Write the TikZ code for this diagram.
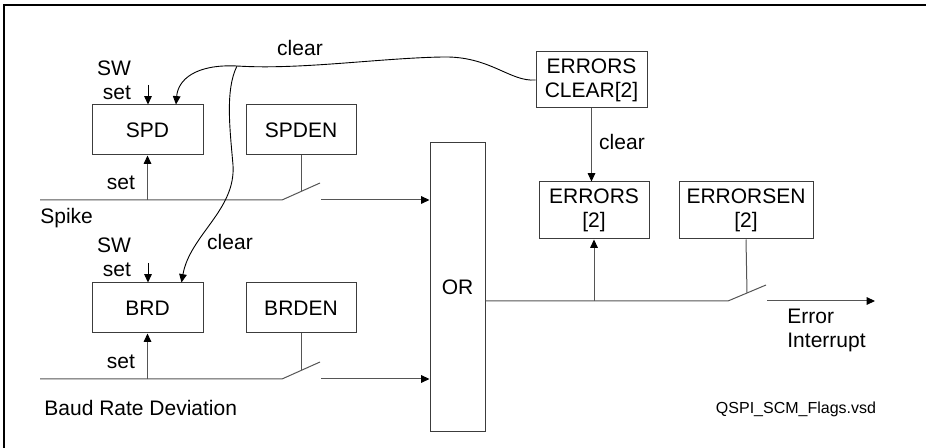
\documentclass[tikz,border=0pt]{standalone}
\usepackage{fontspec}
\setmainfont{Liberation Sans}
\usepackage{tikz}
\usetikzlibrary{arrows.meta, calc, positioning}
\definecolor{boxgray}{RGB}{60,60,60}
\definecolor{wiregray}{RGB}{85,85,85}
\tikzstyle{flag} = [draw=boxgray, line width=0.5pt, inner sep=1pt, align=center, minimum height=25pt]
\tikzstyle{wire} = [draw=wiregray, line width=0.5pt]
\tikzstyle{sigarrow} = [-{Triangle[length=4.2pt, width=3.8pt, color=black]}]
\tikzstyle{clearline} = [draw=black, line width=0.45pt]

\begin{document}
\begin{tikzpicture}[x=0.5pt, y=-0.5pt, font=\fontsize{10.5}{12}\selectfont]
    \useasboundingbox (0,0) rectangle (926,448);
    % Frame
    \draw[line width=0.7pt] (4,448) -- (4,5) -- (926,5);

    % Flag and enable registers
    \node[flag, minimum width=55.5pt] (spd) at (147.5,130) {SPD};
    \node[flag, minimum width=55pt] (spden) at (301,130) {SPDEN};
    \node[flag, minimum width=55.5pt] (brd) at (147.5,308) {BRD};
    \node[flag, minimum width=55pt] (brden) at (301,308) {BRDEN};
    \node[flag, minimum width=27.5pt, minimum height=144.5pt] (orgate) at (457.5,287.5) {OR};
    \node[flag, minimum width=55.5pt, minimum height=28pt] (errclr) at (591.5,80) {ERRORS\\CLEAR[2]};
    \node[flag, minimum width=55pt, minimum height=28.5pt] (errors) at (594,210.5) {ERRORS\\{[2]}};
    \node[flag, minimum width=67pt, minimum height=28.5pt] (errorsen) at (746,210.5) {ERRORSEN\\{[2]}};

    % Switch points
    \coordinate (spikein) at (40,200);
    \coordinate (spikesw) at (282,200);
    \coordinate (spikeblade) at (320,183);
    \coordinate (spikeout) at (321,200);
    \coordinate (baudin) at (40,379);
    \coordinate (baudsw) at (282,379);
    \coordinate (baudblade) at (320,362);
    \coordinate (baudout) at (321,379);
    \coordinate (errsw) at (728,301);
    \coordinate (errblade) at (766,285);
    \coordinate (errout) at (767,301);
    \coordinate (irqend) at (875,301);
    \coordinate (swset1) at (148,85);
    \coordinate (swset2) at (148,263);
    \coordinate (clrjoin) at (237,66);

    % Spike path
    \draw[wire] (spikein) -- (spikesw) -- (spikeblade);
    \draw[wire, sigarrow] (spikeout) -- (spikeout -| orgate.west);
    \draw[wire, sigarrow] (spikein -| spd) -- (spd.south);
    \draw[wire] (spden.south) -- ($(spikesw)!0.5!(spikeblade)$);
    \draw[clearline, sigarrow] (swset1) -- (swset1 |- spd.north);

    % Baud rate path
    \draw[wire] (baudin) -- (baudsw) -- (baudblade);
    \draw[wire, sigarrow] (baudout) -- (baudout -| orgate.west);
    \draw[wire, sigarrow] (baudin -| brd) -- (brd.south);
    \draw[wire] (brden.south) -- ($(baudsw)!0.5!(baudblade)$);
    \draw[clearline, sigarrow] (swset2) -- (swset2 |- brd.north);

    % Output path
    \draw[wire] (errsw -| orgate.east) -- (errsw) -- (errblade);
    \draw[wire, sigarrow] (errout) -- (irqend);
    \draw[wire, sigarrow] (errsw -| errors) -- (errors.south);
    \draw[wire] (errorsen.south) -- ($(errsw)!0.5!(errblade)$);
    \draw[wire, sigarrow] (errclr.south) -- (errclr.south |- errors.north);

    % Clear lines
    \draw[clearline] (errclr.west) .. controls (510,82) and (490,56) .. (443,57)
        .. controls (380,58) and (300,70) .. (clrjoin);
    \draw[clearline, sigarrow] (clrjoin) .. controls (195,64) and (178,80) .. ($(spd.north)+(28.5,0)$);
    \draw[clearline, sigarrow] (clrjoin) .. controls (225,90) and (230,130) .. (233,165)
        .. controls (236,210) and (190,235) .. ($(brd.north)+(34,0)$);

    % Labels
    \node[align=right, anchor=east] (swlbl1) at (138,80.5) {SW\\set};
    \node[align=right, anchor=east] (swlbl2) at (138,257) {SW\\set};
    \node[anchor=east] (setlbl1) at (142,183) {set};
    \node[anchor=east] (setlbl2) at (142,362) {set};
    \node (clrlbl1) at (300,48) {clear};
    \node (clrlbl2) at (230,242) {clear};
    \node (clrlbl3) at (622,142) {clear};
    \node[anchor=west, inner sep=0pt] (spikelbl) at (40,218) {Spike};
    \node[anchor=west, inner sep=0pt] (baudlbl) at (44,408) {Baud Rate Deviation};
    \node[anchor=west, align=left, inner sep=0pt] (irqlbl) at (787,330.5) {Error\\Interrupt};
    \node[font=\fontsize{8}{9.6}\selectfont] (filelbl) at (796,409) {QSPI\_SCM\_Flags.vsd};
\end{tikzpicture}
\end{document}
